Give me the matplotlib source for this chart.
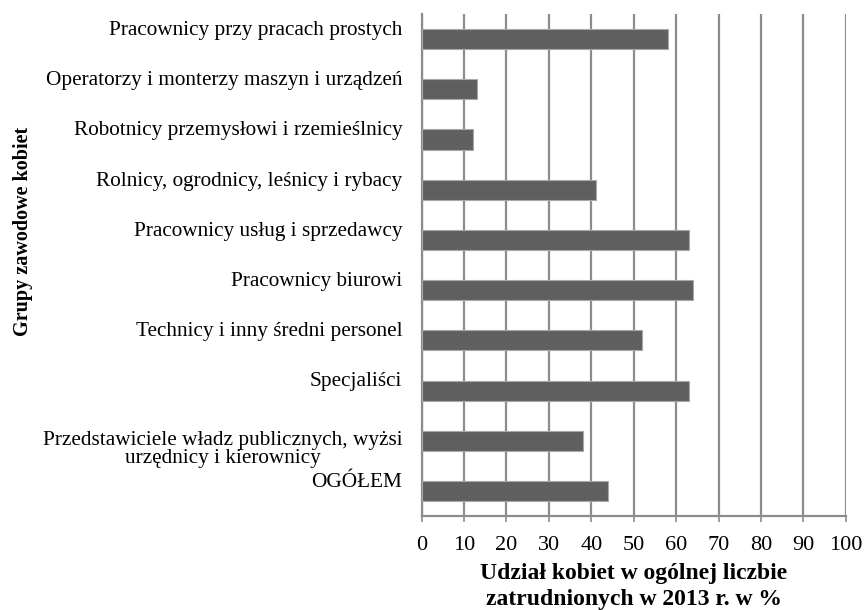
import matplotlib
matplotlib.use('Agg')
import matplotlib.pyplot as plt
import matplotlib.transforms as mtransforms

categories = [
    'OGÓŁEM',
    'Przedstawiciele władz publicznych, wyżsi\nurzędnicy i kierownicy',
    'Specjaliści',
    'Technicy i inny średni personel',
    'Pracownicy biurowi',
    'Pracownicy usług i sprzedawcy',
    'Rolnicy, ogrodnicy, leśnicy i rybacy',
    'Robotnicy przemysłowi i rzemieślnicy',
    'Operatorzy i monterzy maszyn i urządzeń',
    'Pracownicy przy pracach prostych',
]
values = [44, 38, 63, 52, 64, 63, 41, 12, 13, 58]
x_ticks = [0, 10, 20, 30, 40, 50, 60, 70, 80, 90, 100]

plt.rcParams['font.family'] = ['Liberation Serif', 'DejaVu Serif']

fig = plt.figure(figsize=(8.65, 6.1), dpi=100)
ax = fig.add_axes([0.4875, 0.154, 0.4902, 0.823])

grid_col = '#8c8c8c'
ax.barh(range(len(values)), values, height=0.4, color='#5f5f5f',
        edgecolor='#a8a8a8', linewidth=0.8, zorder=3)

ax.set_xlim(0, 100)
ax.set_ylim(-0.5, len(values) - 0.5)
ax.set_xticks(x_ticks)
ax.set_xticklabels([str(t) for t in x_ticks], fontsize=16)
ax.set_yticks(range(len(categories)))
ax.set_yticklabels(categories, fontsize=15.3, multialignment='center',
                   linespacing=0.95)

ax.grid(axis='x', color=grid_col, linewidth=1.6, zorder=0)
ax.tick_params(axis='y', length=0, pad=14)
ax.tick_params(axis='x', length=4, width=1.2, color=grid_col, pad=10)

for s in ['top', 'right']:
    ax.spines[s].set_visible(False)
for s in ['left', 'bottom']:
    ax.spines[s].set_color(grid_col)
    ax.spines[s].set_linewidth(1.6)

# labels sit a bit above the bars, the wrapped one a bit below
for lab in ax.get_yticklabels():
    dy = -5 if '\n' in lab.get_text() else 8
    off = mtransforms.ScaledTranslation(0, dy / 72, fig.dpi_scale_trans)
    lab.set_transform(lab.get_transform() + off)

ax.set_xlabel('Udział kobiet w ogólnej liczbie\nzatrudnionych w 2013 r. w %',
              fontsize=17, fontweight='bold', labelpad=6, linespacing=1.3)
fig.text(0.027, 0.62, 'Grupy zawodowe kobiet', rotation=90, fontsize=14.5,
         fontweight='bold', ha='center', va='center')

fig.savefig('out.png', dpi=100)
